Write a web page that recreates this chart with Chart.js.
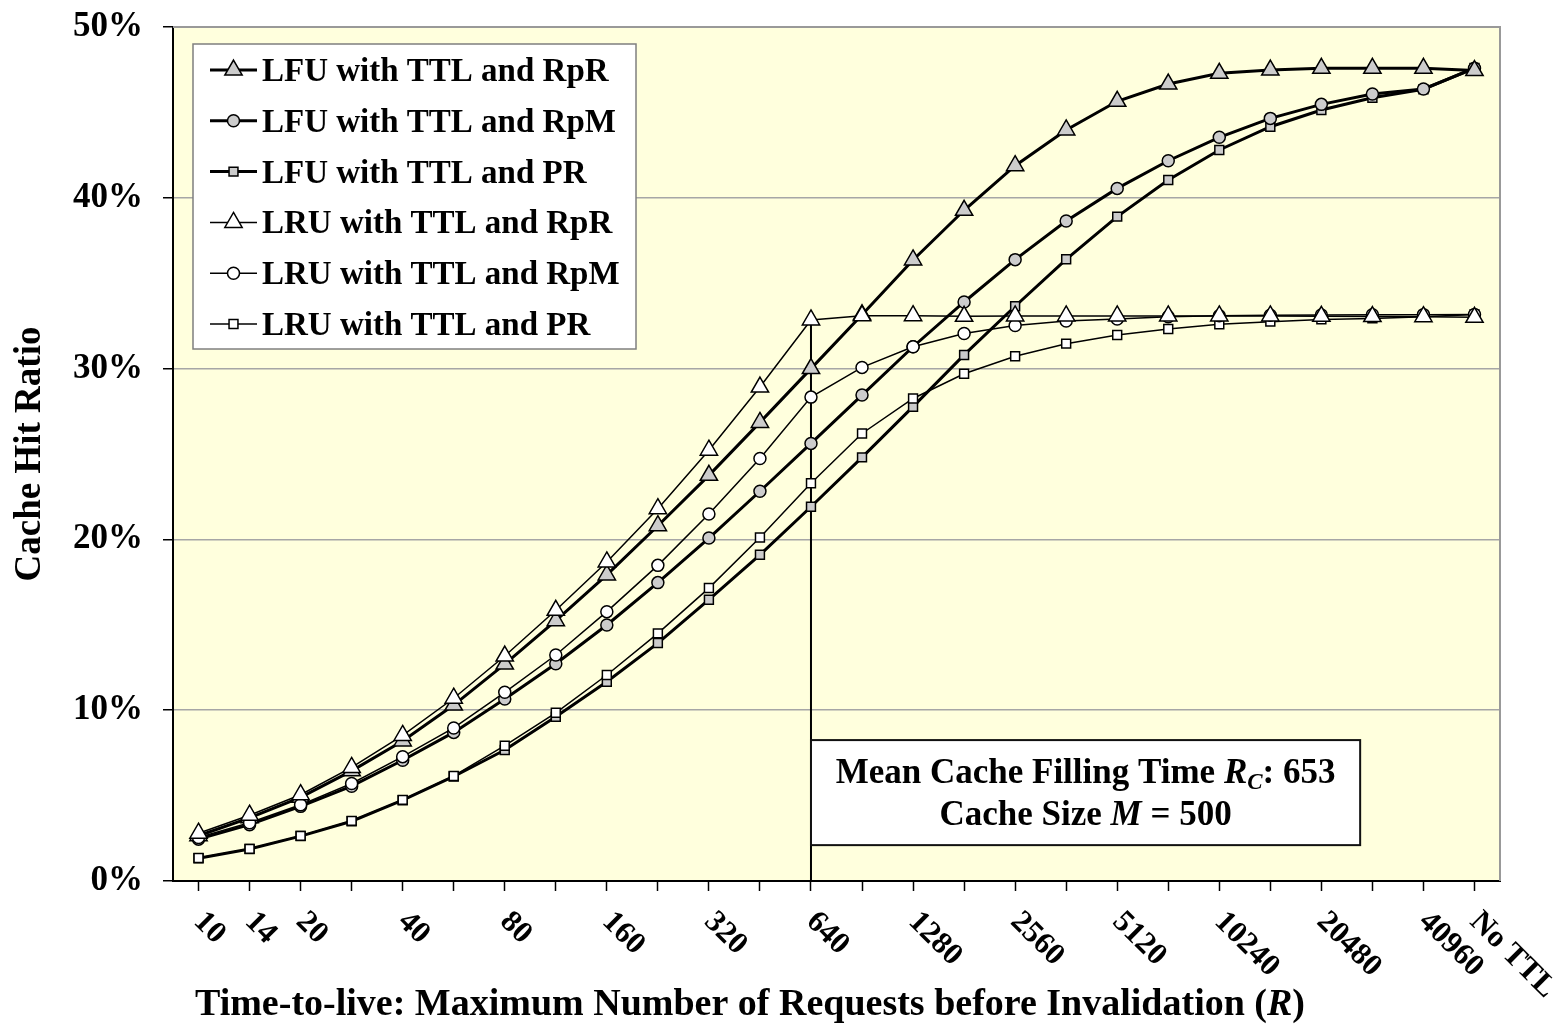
<!DOCTYPE html>
<html>
<head>
<meta charset="utf-8">
<script src="https://cdn.jsdelivr.net/npm/chart.js@4.4.0/dist/chart.umd.min.js"></script>
<style>
    body { margin: 0; background: #fff; }
    #wrap { width: 1557px; height: 1026px; }
</style>
</head>
<body>
<div id="wrap"><canvas id="myChart"></canvas></div>
<script>
// Data

var categories = ["10", "14", "20", "28", "40", "57", "80", "113", "160", "226", "320", "453", "640",
    "905", "1280", "1810", "2560", "3620", "5120", "7241", "10240", "14482", "20480", "28963", "40960", "No TTL"];
var tickLabels = ["10", "14", "20", "", "40", "", "80", "", "160", "", "320", "", "640",
    "", "1280", "", "2560", "", "5120", "", "10240", "", "20480", "", "40960", "No TTL"];
var yTicks = [0, 10, 20, 30, 40, 50];

var lfuRpR = [2.65, 3.7, 4.9, 6.45, 8.2, 10.3, 12.7, 15.24, 17.92, 20.8, 23.75, 26.85, 30.0,
    33.15, 36.36, 39.27, 41.88, 43.97, 45.65, 46.66, 47.29, 47.48, 47.58, 47.58, 47.58, 47.45];
var lfuRpM = [2.45, 3.3, 4.37, 5.55, 7.07, 8.7, 10.66, 12.72, 14.99, 17.47, 20.08, 22.82, 25.62,
    28.45, 31.28, 33.9, 36.38, 38.64, 40.55, 42.17, 43.54, 44.65, 45.47, 46.08, 46.37, 47.58];
var lfuPR = [1.33, 1.87, 2.63, 3.5, 4.73, 6.12, 7.67, 9.62, 11.67, 13.93, 16.47, 19.1, 21.91,
    24.8, 27.77, 30.8, 33.65, 36.4, 38.9, 41.04, 42.8, 44.16, 45.14, 45.86, 46.35, 47.6];
var lruRpR = [2.8, 3.85, 5.05, 6.65, 8.52, 10.7, 13.17, 15.85, 18.68, 21.8, 25.22, 28.92, 32.85,
    33.1, 33.1, 33.06, 33.08, 33.08, 33.08, 33.08, 33.08, 33.08, 33.06, 33.05, 33.04, 33.0];
var lruRpM = [2.55, 3.41, 4.46, 5.71, 7.28, 8.96, 11.05, 13.23, 15.77, 18.48, 21.49, 24.74, 28.33,
    30.07, 31.28, 32.06, 32.52, 32.79, 32.9, 33.04, 33.1, 33.12, 33.14, 33.15, 33.16, 33.17];
var lruPR = [1.35, 1.88, 2.64, 3.52, 4.75, 6.15, 7.92, 9.85, 12.06, 14.5, 17.15, 20.11, 23.29,
    26.2, 28.25, 29.7, 30.72, 31.46, 31.97, 32.32, 32.59, 32.75, 32.88, 32.94, 33.04, 33.17];

// annotation: vertical line at the cache filling time, box next to it
var markIndex = 12;
var noteBox = { fromIndex: 12, toIndex: 22.76, top: 8.25, bottom: 2.1 };

var serif = "'Liberation Serif', 'Times New Roman', serif";
var grayFill = '#cccccc';

function series(label, data, style, lfu) {
    var radius = style === 'triangle' ? 10 : (style === 'circle' ? 6 : 6.3);
    return {
        label: label,
        data: data,
        borderColor: '#000',
        borderWidth: lfu ? 3 : 1.5,
        pointStyle: style,
        pointRadius: radius,
        pointHoverRadius: radius,
        pointBackgroundColor: lfu ? grayFill : '#ffffff',
        pointBorderColor: '#000',
        pointBorderWidth: 1.5,
        tension: 0,
        fill: false,
        order: lfu ? 1 : 0
    };
}

function bold(size, italic) {
    return (italic ? 'italic ' : '') + 'bold ' + size + 'px ' + serif;
}

function drawRuns(ctx, runs, x, y, align) {
    var total = 0;
    runs.forEach(function (r) {
        ctx.font = r.font;
        r.w = ctx.measureText(r.text).width;
        total += r.w;
    });
    var cx = align === 'center' ? x - total / 2 : x;
    ctx.textAlign = 'left';
    ctx.textBaseline = 'alphabetic';
    runs.forEach(function (r) {
        ctx.font = r.font;
        ctx.fillText(r.text, cx, y + (r.dy || 0));
        cx += r.w;
    });
}

// Plot background, frame, marker line

var backdrop = {
    id: 'backdrop',
    beforeDraw: function (chart) {
        var a = chart.chartArea, ctx = chart.ctx;
        ctx.save();
        ctx.fillStyle = '#ffffdd';
        ctx.fillRect(a.left, a.top, a.right - a.left, a.bottom - a.top);
        ctx.restore();
    },
    beforeDatasetsDraw: function (chart) {
        var a = chart.chartArea, ctx = chart.ctx;
        var xs = chart.scales.x, ys = chart.scales.y;
        ctx.save();
        ctx.strokeStyle = '#999999';
        ctx.lineWidth = 2;
        ctx.beginPath();
        ctx.moveTo(a.left, a.top);
        ctx.lineTo(a.right, a.top);
        ctx.lineTo(a.right, a.bottom);
        ctx.stroke();

        var mx = xs.getPixelForValue(markIndex);
        ctx.strokeStyle = '#000';
        ctx.lineWidth = 2;
        ctx.beginPath();
        ctx.moveTo(mx, ys.getPixelForValue(lruRpR[markIndex]));
        ctx.lineTo(mx, a.bottom);
        ctx.stroke();
        ctx.restore();
    }
};

// Note box, legend, x labels and x title

var overlay = {
    id: 'overlay',
    afterDraw: function (chart) {
        var a = chart.chartArea, ctx = chart.ctx;
        var xs = chart.scales.x, ys = chart.scales.y;
        ctx.save();
        ctx.fillStyle = '#000';

        // note box
        var bx1 = xs.getPixelForValue(noteBox.fromIndex), bx2 = xs.getPixelForValue(noteBox.toIndex);
        var by1 = ys.getPixelForValue(noteBox.top), by2 = ys.getPixelForValue(noteBox.bottom);
        ctx.fillStyle = '#fff';
        ctx.fillRect(bx1, by1, bx2 - bx1, by2 - by1);
        ctx.strokeStyle = '#111';
        ctx.lineWidth = 2;
        ctx.strokeRect(bx1, by1, bx2 - bx1, by2 - by1);
        ctx.fillStyle = '#000';
        var bc = (bx1 + bx2) / 2;
        drawRuns(ctx, [
            { text: 'Mean Cache Filling Time ', font: bold(35) },
            { text: 'R', font: bold(35, true) },
            { text: 'C', font: bold(23, true), dy: 6 },
            { text: ': 653', font: bold(35) }
        ], bc, by1 + 43, 'center');
        drawRuns(ctx, [
            { text: 'Cache Size ', font: bold(35) },
            { text: 'M', font: bold(35, true) },
            { text: ' = 500', font: bold(35) }
        ], bc, by1 + 85, 'center');

        // legend
        var lx = a.left + 20, ly = a.top + 17;
        ctx.fillStyle = '#fff';
        ctx.fillRect(lx, ly, 443, 305);
        ctx.strokeStyle = '#7f7f7f';
        ctx.lineWidth = 1.5;
        ctx.strokeRect(lx, ly, 443, 305);
        chart.data.datasets.forEach(function (ds, i) {
            var cy = ly + 26 + i * 50.8;
            ctx.strokeStyle = '#000';
            ctx.lineWidth = ds.borderWidth;
            ctx.beginPath();
            ctx.moveTo(lx + 17, cy);
            ctx.lineTo(lx + 64, cy);
            ctx.stroke();
            ctx.fillStyle = ds.pointBackgroundColor;
            ctx.lineWidth = ds.pointBorderWidth;
            Chart.helpers.drawPoint(ctx, {
                pointStyle: ds.pointStyle,
                radius: ds.pointRadius,
                rotation: 0,
                borderWidth: ds.pointBorderWidth
            }, lx + 40.5, cy);
            ctx.fillStyle = '#000';
            ctx.font = bold(33);
            ctx.textAlign = 'left';
            ctx.textBaseline = 'alphabetic';
            ctx.fillText(ds.label, lx + 69, cy + 11);
        });

        // x tick labels, turned down to the right
        ctx.fillStyle = '#000';
        ctx.font = bold(31);
        ctx.textAlign = 'left';
        ctx.textBaseline = 'middle';
        tickLabels.forEach(function (t, i) {
            if (!t) return;
            ctx.save();
            ctx.translate(xs.getPixelForValue(i), a.bottom + 36);
            ctx.rotate(Math.PI / 4);
            ctx.fillText(t, 0, 0);
            ctx.restore();
        });

        // x title
        drawRuns(ctx, [
            { text: 'Time-to-live: Maximum Number of Requests before Invalidation (', font: bold(38) },
            { text: 'R', font: bold(38, true) },
            { text: ')', font: bold(38) }
        ], a.left + 22, chart.height - 11, 'left');
        ctx.restore();
    }
};

var ctx = document.getElementById('myChart').getContext('2d');
var chart = new Chart(ctx, {
    type: 'line',
    data: {
        labels: categories,
        datasets: [
            series('LFU with TTL and RpR', lfuRpR, 'triangle', true),
            series('LFU with TTL and RpM', lfuRpM, 'circle', true),
            series('LFU with TTL and PR', lfuPR, 'rect', true),
            series('LRU with TTL and RpR', lruRpR, 'triangle', false),
            series('LRU with TTL and RpM', lruRpM, 'circle', false),
            series('LRU with TTL and PR', lruPR, 'rect', false)
        ]
    },
    options: {
        responsive: true,
        maintainAspectRatio: false,
        animation: false,
        layout: { padding: { top: 27, right: 57, left: 0, bottom: 0 } },
        plugins: {
            legend: { display: false },
            tooltip: { enabled: false }
        },
        scales: {
            x: {
                type: 'category',
                offset: true,
                grid: { display: true, drawOnChartArea: false, drawTicks: true, tickLength: 10, tickColor: '#000', tickWidth: 1.5 },
                border: { color: '#000', width: 2 },
                ticks: { display: false },
                afterFit: function (s) { s.height = 145; }
            },
            y: {
                min: yTicks[0],
                max: yTicks[yTicks.length - 1],
                afterBuildTicks: function (s) {
                    s.ticks = yTicks.map(function (v) { return { value: v }; });
                },
                ticks: {
                    callback: function (v) { return v + '%'; },
                    font: { family: serif, size: 35, weight: 'bold' },
                    color: '#000',
                    padding: 20
                },
                grid: { color: '#a6a6a6', lineWidth: 1.5, tickColor: '#000', tickLength: 10, tickWidth: 1.5 },
                border: { color: '#000', width: 2 },
                title: {
                    display: true,
                    text: 'Cache Hit Ratio',
                    font: { family: serif, size: 37, weight: 'bold' },
                    color: '#000',
                    padding: { top: 8, bottom: 0 }
                },
                afterFit: function (s) {
                    s.width = 173;
                    s.paddingTop = 0;
                    s.paddingBottom = 0;
                }
            }
        }
    },
    plugins: [backdrop, overlay]
});
</script>
</body>
</html>
